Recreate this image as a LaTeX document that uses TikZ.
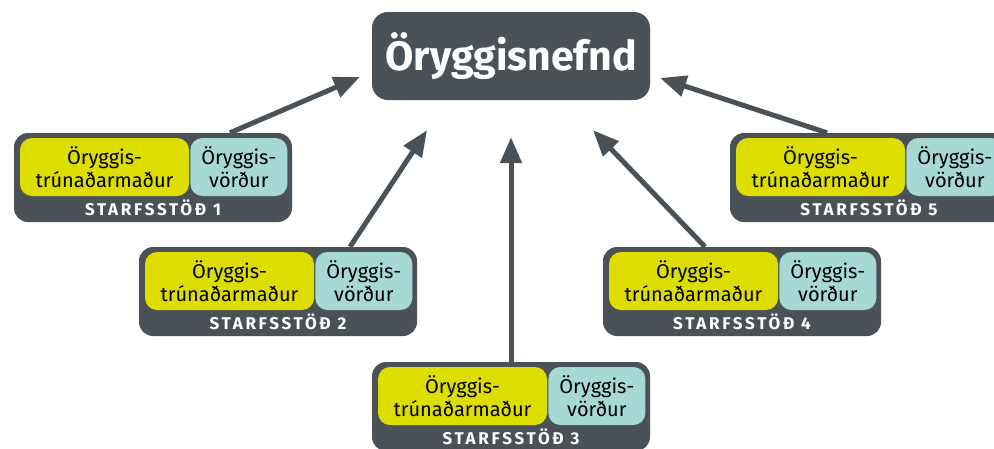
\documentclass[tikz,border=0pt]{standalone}
\usepackage{fontspec}
\setmainfont{Fira Sans}
\usetikzlibrary{arrows.meta,positioning}
\definecolor{slate}{RGB}{74,82,87}
\definecolor{lime}{RGB}{221,221,0}
\definecolor{aqua}{RGB}{166,216,212}

\begin{document}
\begin{tikzpicture}[x=1pt,y=-1pt,
    station/.style={fill=slate,rounded corners=14pt,minimum width=278pt,minimum height=89pt,inner sep=0pt},
    trustee/.style={fill=lime,rounded corners=12pt,minimum width=169pt,minimum height=58pt,inner sep=0pt,
      align=center,font=\fontsize{20}{23}\selectfont},
    guard/.style={trustee,fill=aqua,minimum width=97pt},
    caption/.style={text=white,inner sep=0pt,font=\bfseries\fontsize{17}{17}\selectfont\addfontfeatures{LetterSpace=16}},
    link/.style={color=slate,line width=5pt,-{Triangle[length=26pt,width=21pt]}}]
  \clip (0,0) rectangle (994,448);
  \node [fill=slate,rounded corners=16pt,minimum width=278pt,minimum height=88pt,text=white,inner sep=0pt,
    font=\bfseries\fontsize{41}{41}\selectfont] (nefnd) at (511,56) {Öryggisnefnd};
  \foreach \n/\x/\y in {1/153/177.5,2/278/291.5,3/511/406.5,4/742/291.5,5/869/177.5}
  {
    \node [station] (st\n) at (\x,\y) {};
    \node [trustee,anchor=north west] (tr\n) at ([shift={(6,5)}]st\n.north west) {Öryggis-\\trúnaðarmaður};
    \node [guard,right=1pt of tr\n] (vo\n) {Öryggis-\\vörður};
    \node [caption] (lb\n) at ([shift={(0,75)}]st\n.north) {STARFSSTÖÐ \n};
  }
  \coordinate (t1) at ([shift={(-12,21)}]nefnd.west);
  \coordinate (t2) at ([shift={(-84,30)}]nefnd.south);
  \coordinate (t3) at ([shift={(0,37)}]nefnd.south);
  \coordinate (t4) at ([shift={(82,30)}]nefnd.south);
  \coordinate (t5) at ([shift={(10,22)}]nefnd.east);
  \path[link]
    ([xshift=77pt]st1.north) edge (t1)
    ([xshift=72pt]st2.north) edge (t2)
    (st3.north) edge (t3)
    ([xshift=-37pt]st4.north) edge (t4)
    ([xshift=-42pt]st5.north) edge (t5);
\end{tikzpicture}
\end{document}
